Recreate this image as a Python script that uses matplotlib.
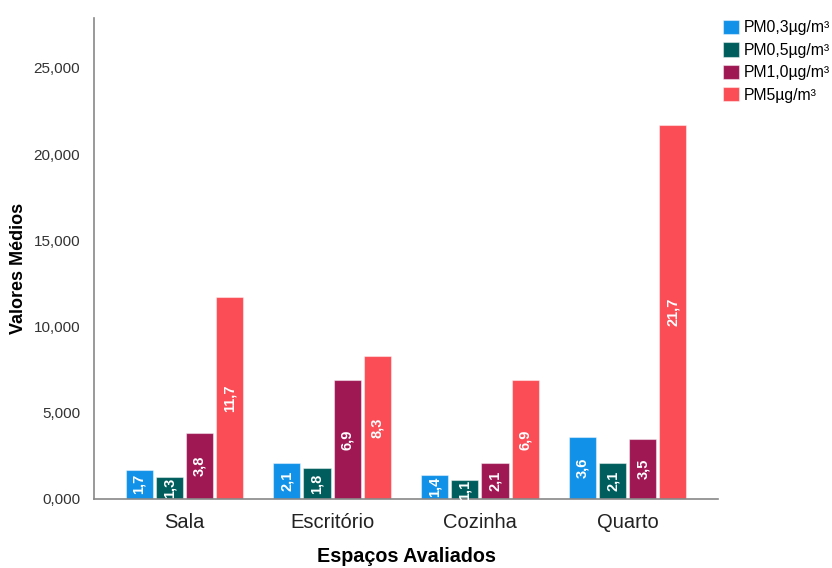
import matplotlib
matplotlib.use("Agg")
import matplotlib.pyplot as plt
import numpy as np

categories = ["Sala", "Escritório", "Cozinha", "Quarto"]
series_names = ["PM0,3µg/m³", "PM0,5µg/m³", "PM1,0µg/m³", "PM5µg/m³"]
pm03 = [1.7, 2.1, 1.4, 3.6]
pm05 = [1.3, 1.8, 1.1, 2.1]
pm10 = [3.8, 6.9, 2.1, 3.5]
pm5 = [11.7, 8.3, 6.9, 21.7]
yticks = [0, 5, 10, 15, 20, 25]
colors = ["#1192E8", "#005D5D", "#9F1853", "#FA4D56"]

plt.rcParams['font.family'] = ['Liberation Sans', 'DejaVu Sans']

fig = plt.figure(figsize=(8.32, 5.68), dpi=100)
ax = fig.add_axes([94/832, 1-499/568, (718-94)/832, (499-18)/568])

series = [pm03, pm05, pm10, pm5]
x = np.arange(len(categories))
pitch = 0.2034
width = 0.183
for i, (vals, c, name) in enumerate(zip(series, colors, series_names)):
    pos = x + (i - 1.5) * pitch
    bars = ax.bar(pos, vals, width=width, color=c, edgecolor=(1, 1, 1, 0.45),
                  linewidth=0.8, label=name, zorder=2)
    for b, v in zip(bars, vals):
        ax.text(b.get_x() + b.get_width()/2, v/2, f"{v:.1f}".replace(".", ","),
                rotation=90, ha="center", va="center", color="white",
                fontsize=10.5, fontweight="bold", zorder=3)

ax.set_xlim(-0.61, 3.61)
ax.set_ylim(0, 27.9)
ax.set_yticks(yticks)
ax.set_yticklabels([f"{t:.3f}".replace(".", ",") for t in yticks], fontsize=11, color="#333333")
ax.set_xticks(x)
ax.set_xticklabels(categories, fontsize=14.5, color="#222222")
ax.tick_params(axis="both", length=0)
ax.tick_params(axis="y", pad=10)
ax.tick_params(axis="x", pad=10)
for s in ["top", "right"]:
    ax.spines[s].set_visible(False)
for s in ["left", "bottom"]:
    ax.spines[s].set_color("#888888")
    ax.spines[s].set_linewidth(1.2)

ax.set_xlabel("Espaços Avaliados", fontsize=14.2, fontweight="bold", va="center")
ax.xaxis.set_label_coords(0.5, -(557-499)/481)
ax.set_ylabel("Valores Médios", fontsize=13, fontweight="bold", va="center")
ax.yaxis.set_label_coords((19-94)/624, (499-268)/481)

leg = ax.legend(loc="upper left", bbox_to_anchor=(723/832, 1-20/568),
                bbox_transform=fig.transFigure, frameon=False, fontsize=11.3,
                handlelength=1.0, handleheight=1.0, handletextpad=0.35,
                labelspacing=0.45, borderaxespad=0, borderpad=0)

fig.savefig("out.png", dpi=100)
